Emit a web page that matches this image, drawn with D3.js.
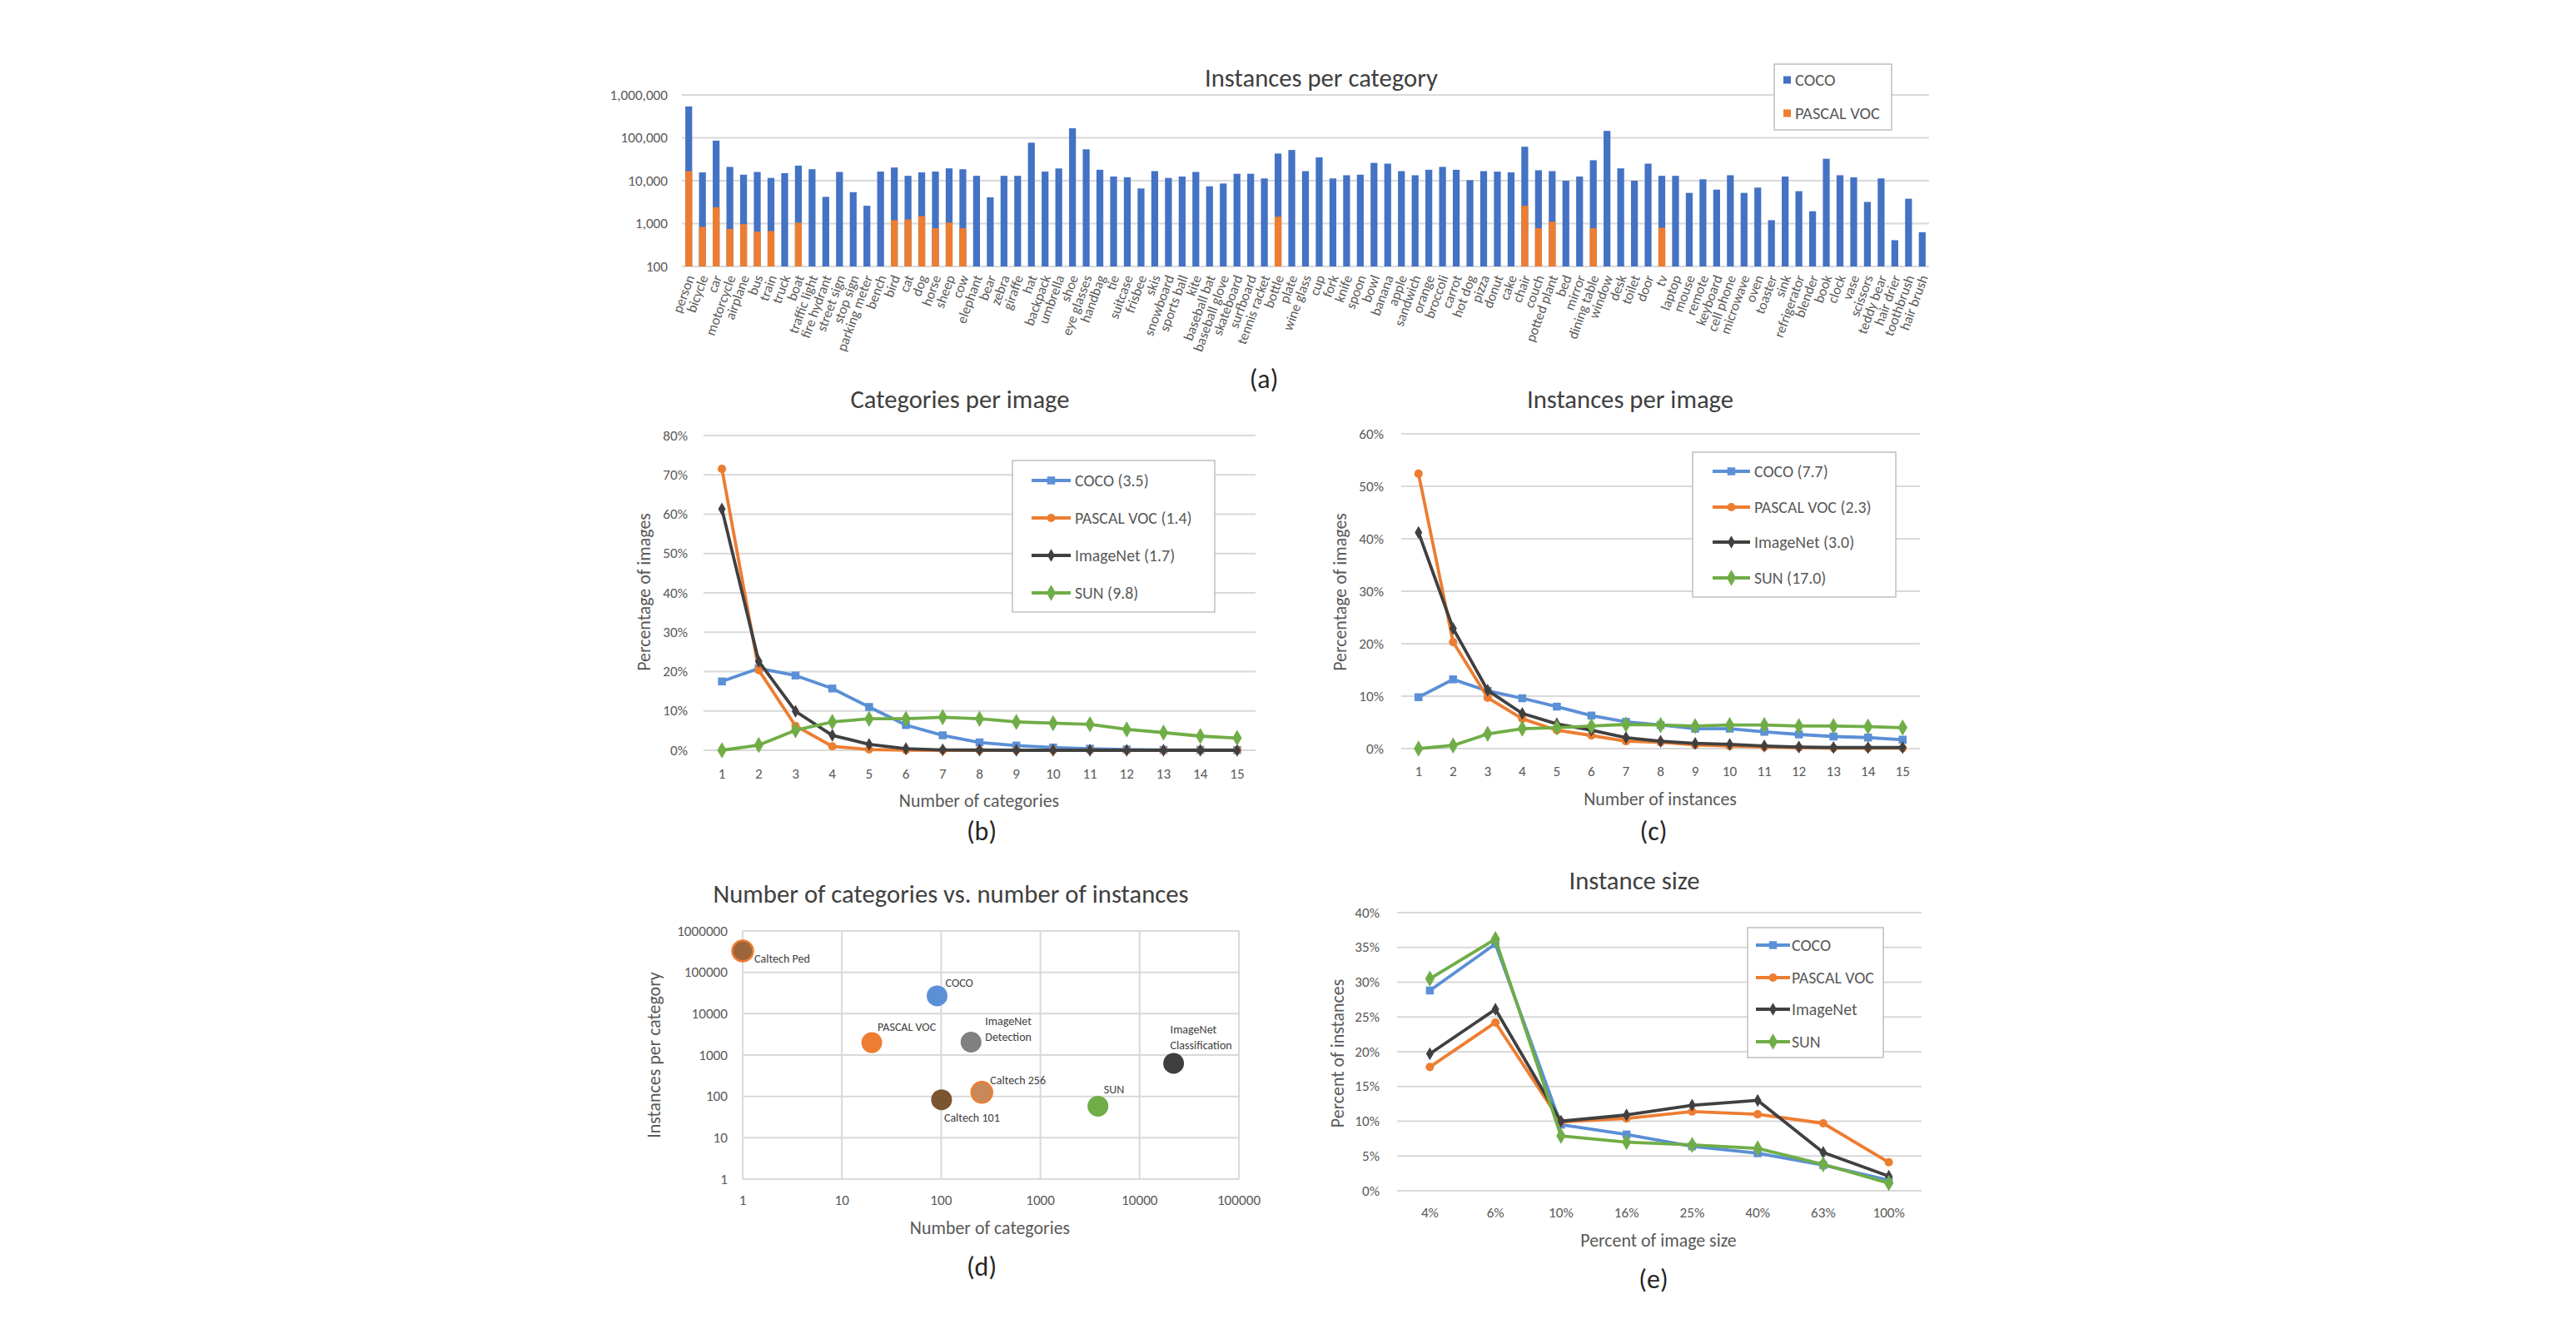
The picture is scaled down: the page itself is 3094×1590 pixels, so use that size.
<!DOCTYPE html>
<html><head><meta charset="utf-8">
<script src="https://cdn.jsdelivr.net/npm/d3@7"></script>
<style>
html,body{margin:0;padding:0;background:#fff;}
svg{display:block;}
text{font-family: Carlito, Lato, "Open Sans", sans-serif;}
</style></head><body>
<svg id="fig" width="3094" height="1590"></svg>
<script>
// ---------------- DATA ----------------
// (a) Instances per category
const categories = ["person","bicycle","car","motorcycle","airplane","bus","train","truck","boat","traffic light","fire hydrant","street sign","stop sign","parking meter","bench","bird","cat","dog","horse","sheep","cow","elephant","bear","zebra","giraffe","hat","backpack","umbrella","shoe","eye glasses","handbag","tie","suitcase","frisbee","skis","snowboard","sports ball","kite","baseball bat","baseball glove","skateboard","surfboard","tennis racket","bottle","plate","wine glass","cup","fork","knife","spoon","bowl","banana","apple","sandwich","orange","broccoli","carrot","hot dog","pizza","donut","cake","chair","couch","potted plant","bed","mirror","dining table","window","desk","toilet","door","tv","laptop","mouse","remote","keyboard","cell phone","microwave","oven","toaster","sink","refrigerator","blender","book","clock","vase","scissors","teddy bear","hair drier","toothbrush","hair brush"];
const cocoInstances = [540000,15600,86000,21000,13800,16000,11600,15000,22500,18500,4200,16000,5400,2600,16300,20300,13000,15600,16300,19400,18500,13000,4100,13000,13000,77000,16300,19300,167000,54000,18000,12500,12000,6600,16700,11600,12500,16000,7400,8600,14500,14500,11300,43000,52000,16700,35000,11300,13400,13800,26000,25000,16700,13400,18000,21000,18000,10300,16700,16300,15600,62000,17500,16700,10000,12500,30000,145000,19400,10000,25000,13000,13000,5200,10800,6200,13400,5200,6900,1200,12500,5700,1940,32500,13400,12000,3200,11300,410,3800,630];
const vocInstances = [16700,840,2400,750,970,650,670,null,1050,null,null,null,null,null,null,1200,1250,1500,780,1050,780,null,null,null,null,null,null,null,null,null,null,null,null,null,null,null,null,null,null,null,null,null,null,1450,null,null,null,null,null,null,null,null,null,null,null,null,null,null,null,null,null,2600,780,1100,null,null,780,null,null,null,null,800,null,null,null,null,null,null,null,null,null,null,null,null,null,null,null,null,null,null,null];
const logTicksA = [100,1000,10000,100000,1000000];

// (b) Categories per image (percent of images)
const numCategories = [1,2,3,4,5,6,7,8,9,10,11,12,13,14,15];
const catsCOCO = [17.5,20.8,19.0,15.7,11.0,6.4,3.8,2.0,1.2,0.7,0.4,0.2,0.1,0.1,0.05];
const catsVOC = [71.5,20.4,6.2,1.0,0.2,0.05,0,0,0,0,0,0,0,0,0];
const catsImageNet = [61.3,22.6,9.9,3.8,1.5,0.4,0.1,0.05,0,0,0,0,0,0,0];
const catsSUN = [0,1.3,5.1,7.2,8.0,8.0,8.4,8.0,7.2,6.9,6.6,5.3,4.5,3.6,3.1];
const legendB = ["COCO (3.5)","PASCAL VOC (1.4)","ImageNet (1.7)","SUN (9.8)"];

// (c) Instances per image
const numInstances = [1,2,3,4,5,6,7,8,9,10,11,12,13,14,15];
const instCOCO = [9.8,13.2,11.0,9.6,8.0,6.3,5.1,4.5,3.8,3.8,3.2,2.7,2.3,2.1,1.7];
const instVOC = [52.4,20.3,9.7,5.7,3.5,2.5,1.4,1.2,0.7,0.5,0.3,0.2,0.1,0.1,0.1];
const instImageNet = [41.2,22.9,11.1,6.7,4.7,3.5,2.1,1.4,1.0,0.8,0.5,0.3,0.2,0.2,0.2];
const instSUN = [0,0.6,2.8,3.8,4.0,4.3,4.6,4.5,4.3,4.5,4.5,4.3,4.3,4.2,4.0];
const legendC = ["COCO (7.7)","PASCAL VOC (2.3)","ImageNet (3.0)","SUN (17.0)"];

// (d) Number of categories vs number of instances
const datasetNames = ["Caltech Ped","COCO","PASCAL VOC","ImageNet Detection","ImageNet Classification","Caltech 256","Caltech 101","SUN"];
const datasetCategories = [1,91,20,200,22000,257,101,3800];
const datasetInstPerCat = [330000,27000,2000,2050,630,125,83,58];
const logTicksDX = [1,10,100,1000,10000,100000];
const logTicksDY = [1,10,100,1000,10000,100000,1000000];

// (e) Instance size
const sizeBins = ["4%","6%","10%","16%","25%","40%","63%","100%"];
const sizeCOCO = [28.8,35.5,9.5,8.1,6.4,5.4,3.7,1.5];
const sizeVOC = [17.8,24.2,9.9,10.4,11.4,11.0,9.7,4.1];
const sizeImageNet = [19.7,26.1,10.0,10.9,12.3,13.0,5.5,2.1];
const sizeSUN = [30.5,36.2,7.9,7.0,6.6,6.1,3.8,1.1];
const legendE = ["COCO","PASCAL VOC","ImageNet","SUN"];

// ---------------- STYLE ----------------
const GRID = "#d9d9d9", TICK = "#595959", TITLE = "#404040", TAG = "#262626";
const C_BLUE_BAR = "#4472c4", C_BLUE = "#5b8fd6", C_ORANGE = "#ed7d31", C_DARK = "#404040", C_GREEN = "#70ad47";
const seriesStyle = [
  {color: C_BLUE, symbol: d3.symbolSquare, size: 90},
  {color: C_ORANGE, symbol: d3.symbolCircle, size: 80},
  {color: C_DARK, symbol: d3.symbolDiamond, size: 70},
  {color: C_GREEN, symbol: d3.symbolDiamond, size: 110}
];

const svg = d3.select("#fig");
svg.append("rect").attr("width",3094).attr("height",1590).attr("fill","#fff");

// font sizes fitted to the widths of the reference texts
function measure(s) {
  const t = svg.append("text").attr("font-size", 100).text(s);
  const w = t.node().getComputedTextLength();
  t.remove();
  return w;
}
function fitGroup(pairs) {
  const sizes = pairs.map(([s, w]) => 100 * w / measure(s));
  return d3.mean(sizes);
}
const FS_TITLE = fitGroup([["Instances per category", 287], ["Categories per image", 267], ["Instances per image", 251], ["Number of categories vs. number of instances", 570], ["Instance size", 150]]);
const FS_AXT = fitGroup([["Number of categories", 195], ["Number of instances", 186], ["Percent of image size", 182], ["Percentage of images", 192], ["Instances per category", 198]]);
const FS_LEG = fitGroup([["PASCAL VOC (1.4)", 143], ["PASCAL VOC (2.3)", 141], ["PASCAL VOC", 97]]);
const FS_LEGA = fitGroup([["PASCAL VOC", 102]]);
const FS_TICK = fitGroup([["1,000,000", 66], ["100000", 56], ["10", 17]]);
const FS_CAT = fitGroup([["motorcycle", 76], ["parking meter", 96]]);
const FS_PT = fitGroup([["Caltech Ped", 67], ["PASCAL VOC", 70]]);
const FS_TAG = 32;

function txt(g, x, y, s, size, o = {}) {
  const t = g.append("text").attr("x", x).attr("y", y).text(s)
    .attr("font-size", size).attr("fill", o.fill || TICK)
    .attr("text-anchor", o.anchor || "middle")
    .attr("dominant-baseline", "central");
  if (o.rotate !== undefined) t.attr("transform", `rotate(${o.rotate},${x},${y})`);
  return t;
}

// ---------------- PANEL (a) ----------------
(function(){
  const g = svg.append("g");
  const x = d3.scaleBand().domain(categories).range([819, 2317]).paddingInner(0.5).paddingOuter(0.25);
  const y = d3.scaleLog().domain([100, 1e6]).range([320, 114]);
  g.selectAll("line.grid").data(logTicksA).join("line")
    .attr("x1", 819).attr("x2", 2317).attr("y1", d => y(d)).attr("y2", d => y(d))
    .attr("stroke", GRID).attr("stroke-width", 2);
  logTicksA.forEach(v => txt(g, 802, y(v), d3.format(",")(v), FS_TICK, {anchor: "end"}));
  g.selectAll("rect.coco").data(categories).join("rect")
    .attr("x", d => x(d)).attr("width", x.bandwidth())
    .attr("y", (d, i) => y(cocoInstances[i])).attr("height", (d, i) => y(100) - y(cocoInstances[i]))
    .attr("fill", C_BLUE_BAR);
  g.selectAll("rect.voc").data(categories.filter((d, i) => vocInstances[i] != null)).join("rect")
    .attr("x", d => x(d)).attr("width", x.bandwidth())
    .attr("y", d => y(vocInstances[categories.indexOf(d)]))
    .attr("height", d => y(100) - y(vocInstances[categories.indexOf(d)]))
    .attr("fill", C_ORANGE);
  categories.forEach(c => {
    txt(g, x(c) + x.bandwidth() / 2 + 2, 331, c, FS_CAT, {anchor: "end", rotate: -70});
  });
  txt(g, 1587, 93, "Instances per category", FS_TITLE, {fill: TITLE});
  g.append("rect").attr("x", 2131).attr("y", 77).attr("width", 141).attr("height", 79)
    .attr("fill", "#fff").attr("stroke", "#bfbfbf").attr("stroke-width", 1.5);
  [["COCO", C_BLUE_BAR, 96], ["PASCAL VOC", C_ORANGE, 136]].forEach(([n, c, yy]) => {
    g.append("rect").attr("x", 2142).attr("y", yy - 4.5).attr("width", 9).attr("height", 9).attr("fill", c);
    txt(g, 2156, yy, n, FS_LEGA, {anchor: "start"});
  });
  txt(g, 1518, 455, "(a)", FS_TAG, {fill: TAG});
})();

// ---------------- line panels (b), (c), (e) ----------------
function linePanel(cfg) {
  const g = svg.append("g");
  const x = d3.scaleBand().domain(cfg.xcats).range(cfg.xr);
  const y = d3.scaleLinear().domain([0, cfg.ymax]).range(cfg.yr);
  const ticks = d3.range(0, cfg.ymax + 1e-9, cfg.ystep);
  g.selectAll("line.grid").data(ticks).join("line")
    .attr("x1", cfg.xr[0]).attr("x2", cfg.xr[1]).attr("y1", d => y(d)).attr("y2", d => y(d))
    .attr("stroke", GRID).attr("stroke-width", 2);
  ticks.forEach(v => txt(g, cfg.ylabX, y(v), v + "%", FS_TICK, {anchor: "end"}));
  cfg.xcats.forEach(c => txt(g, x(c) + x.bandwidth() / 2, cfg.xlabY, c, FS_TICK));
  cfg.series.forEach((vals, si) => {
    const st = seriesStyle[si];
    const line = d3.line().x((d, i) => x(cfg.xcats[i]) + x.bandwidth() / 2).y(d => y(d));
    g.append("path").attr("d", line(vals)).attr("fill", "none").attr("stroke", st.color)
      .attr("stroke-width", 3.8).attr("stroke-linejoin", "round");
    g.selectAll(null).data(vals).join("path")
      .attr("transform", (d, i) => `translate(${x(cfg.xcats[i]) + x.bandwidth() / 2},${y(d)})`)
      .attr("d", d3.symbol(st.symbol, st.size)()).attr("fill", st.color);
  });
  txt(g, cfg.title[0], cfg.title[1], cfg.titleText, FS_TITLE, {fill: TITLE});
  txt(g, cfg.xt[0], cfg.xt[1], cfg.xtText, FS_AXT);
  txt(g, cfg.yt[0], cfg.yt[1], cfg.ytText, FS_AXT, {rotate: -90});
  const L = cfg.legend;
  g.append("rect").attr("x", L.x0).attr("y", L.y0).attr("width", L.x1 - L.x0).attr("height", L.y1 - L.y0)
    .attr("fill", "#fff").attr("stroke", "#bfbfbf").attr("stroke-width", 1.5);
  cfg.legendText.forEach((n, i) => {
    const st = seriesStyle[i], yy = L.items[i];
    g.append("line").attr("x1", L.lx0).attr("x2", L.lx1).attr("y1", yy).attr("y2", yy)
      .attr("stroke", st.color).attr("stroke-width", 3.8);
    g.append("path").attr("transform", `translate(${(L.lx0 + L.lx1) / 2},${yy})`)
      .attr("d", d3.symbol(st.symbol, st.size)()).attr("fill", st.color);
    txt(g, L.tx, yy, n, FS_LEG, {anchor: "start"});
  });
  txt(g, cfg.tag[0], cfg.tag[1], cfg.tagText, FS_TAG, {fill: TAG});
}

linePanel({
  xcats: numCategories, xr: [845, 1508], ymax: 80, ystep: 10, yr: [901, 523],
  ylabX: 826, xlabY: 929,
  series: [catsCOCO, catsVOC, catsImageNet, catsSUN],
  title: [1153, 479], titleText: "Categories per image",
  xt: [1176, 961], xtText: "Number of categories",
  yt: [773, 711], ytText: "Percentage of images",
  legend: {x0: 1216, y0: 553, x1: 1459, y1: 735, items: [577, 622, 667, 712], lx0: 1239, lx1: 1286, tx: 1291},
  legendText: legendB,
  tag: [1179, 998], tagText: "(b)"
});

linePanel({
  xcats: numInstances, xr: [1683, 2306], ymax: 60, ystep: 10, yr: [899, 521],
  ylabX: 1662, xlabY: 926,
  series: [instCOCO, instVOC, instImageNet, instSUN],
  title: [1958, 479], titleText: "Instances per image",
  xt: [1994, 959], xtText: "Number of instances",
  yt: [1609, 711], ytText: "Percentage of images",
  legend: {x0: 2033, y0: 543, x1: 2277, y1: 717, items: [566, 609, 651, 694], lx0: 2057, lx1: 2102, tx: 2107},
  legendText: legendC,
  tag: [1986, 998], tagText: "(c)"
});

linePanel({
  xcats: sizeBins, xr: [1678, 2308], ymax: 40, ystep: 5, yr: [1430, 1096],
  ylabX: 1657, xlabY: 1456,
  series: [sizeCOCO, sizeVOC, sizeImageNet, sizeSUN],
  title: [1963, 1057], titleText: "Instance size",
  xt: [1992, 1489], xtText: "Percent of image size",
  yt: [1606, 1265], ytText: "Percent of instances",
  legend: {x0: 2099, y0: 1114, x1: 2262, y1: 1270, items: [1135, 1174, 1212, 1251], lx0: 2109, lx1: 2150, tx: 2152},
  legendText: legendE,
  tag: [1986, 1536], tagText: "(e)"
});

// ---------------- PANEL (d) ----------------
(function(){
  const g = svg.append("g");
  const x = d3.scaleLog().domain([1, 1e5]).range([892, 1488]);
  const y = d3.scaleLog().domain([1, 1e6]).range([1416, 1118]);
  g.selectAll("line.gy").data(logTicksDY).join("line")
    .attr("x1", 892).attr("x2", 1488).attr("y1", d => y(d)).attr("y2", d => y(d))
    .attr("stroke", GRID).attr("stroke-width", 2);
  g.selectAll("line.gx").data(logTicksDX).join("line")
    .attr("y1", 1118).attr("y2", 1416).attr("x1", d => x(d)).attr("x2", d => x(d))
    .attr("stroke", GRID).attr("stroke-width", 2);
  logTicksDY.forEach(v => txt(g, 874, y(v), String(v), FS_TICK, {anchor: "end"}));
  logTicksDX.forEach(v => txt(g, x(v), 1441, String(v), FS_TICK));
  const fills = ["#9c653a", "#5b8fd6", "#ed7d31", "#808080", "#3f3f3f", "#c8895a", "#7a5530", "#70ad47"];
  const strokes = ["#ed7d31", null, null, null, null, "#ed7d31", null, null];
  // label layout: offsets from the point, in pixels (start-anchored)
  const labelDx = [14, 10, 7, 17, -4, 10, 3, 7];
  const labelDy = [[10], [-15], [-19], [-25, -6], [-40, -21], [-14], [22], [-20]];
  const labelLines = [["Caltech Ped"], ["COCO"], ["PASCAL VOC"], ["ImageNet", "Detection"], ["ImageNet", "Classification"], ["Caltech 256"], ["Caltech 101"], ["SUN"]];
  datasetNames.forEach((n, i) => {
    const px = x(datasetCategories[i]), py = y(datasetInstPerCat[i]);
    const c = g.append("circle").attr("cx", px).attr("cy", py).attr("r", 12.5).attr("fill", fills[i]);
    if (strokes[i]) c.attr("stroke", strokes[i]).attr("stroke-width", 2.5);
    labelLines[i].forEach((ln, k) => txt(g, px + labelDx[i], py + labelDy[i][k], ln, FS_PT, {anchor: "start", fill: TITLE}));
  });
  txt(g, 1142, 1073, "Number of categories vs. number of instances", FS_TITLE, {fill: TITLE});
  txt(g, 1189, 1474, "Number of categories", FS_AXT);
  txt(g, 785, 1267, "Instances per category", FS_AXT, {rotate: -90});
  txt(g, 1179, 1521, "(d)", FS_TAG, {fill: TAG});
})();
</script></body></html>
